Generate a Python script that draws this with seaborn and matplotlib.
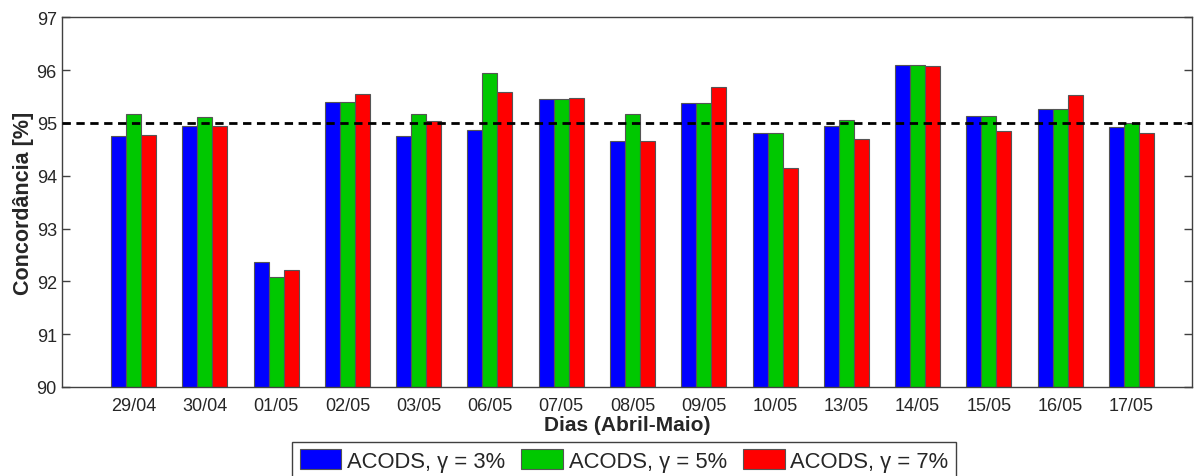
import matplotlib
matplotlib.use("Agg")
import matplotlib.pyplot as plt
import seaborn as sns
import pandas as pd
from matplotlib.patches import Patch

days = ["29/04", "30/04", "01/05", "02/05", "03/05", "06/05", "07/05", "08/05",
        "09/05", "10/05", "13/05", "14/05", "15/05", "16/05", "17/05"]
g3 = [94.75, 94.95, 92.36, 95.39, 94.75, 94.87, 95.46, 94.66, 95.38, 94.81, 94.94, 96.09, 95.14, 95.26, 94.93]
g5 = [95.17, 95.12, 92.08, 95.39, 95.17, 95.95, 95.46, 95.17, 95.38, 94.81, 95.06, 96.09, 95.14, 95.26, 94.99]
g7 = [94.77, 94.95, 92.21, 95.54, 95.04, 95.58, 95.48, 94.66, 95.68, 94.15, 94.70, 96.08, 94.84, 95.53, 94.81]
series = ["ACODS, γ = 3%", "ACODS, γ = 5%", "ACODS, γ = 7%"]
colors = ["#0000FF", "#00C800", "#FF0000"]
yticks = [90, 91, 92, 93, 94, 95, 96, 97]
ref_level = 95

rows = []
for name, vals in zip(series, [g3, g5, g7]):
    for d, v in zip(days, vals):
        rows.append({"Dia": d, "Série": name, "Valor": v})
df = pd.DataFrame(rows)

sns.set_theme(style="white")
plt.rcParams["font.family"] = ["Liberation Sans", "DejaVu Sans"]

fig = plt.figure(figsize=(12.03, 4.77), dpi=100)
ax = fig.add_axes([0.0518, 0.1866, 0.9391, 0.775])

sns.barplot(data=df, x="Dia", y="Valor", hue="Série", order=days, hue_order=series,
            palette=colors, width=0.632, edgecolor="#555555", linewidth=0.8,
            saturation=1, ax=ax, legend=False)

ax.axhline(ref_level, color="black", linestyle=(0, (3, 2)), linewidth=2, zorder=5)

ax.set_ylim(90, 97)
ax.set_xlim(-1, 14.85)
ax.set_yticks(yticks)
ax.set_yticklabels([str(t) for t in yticks], fontsize=13)
ax.tick_params(axis="y", direction="in", length=6, width=1, color="#404040",
               left=True, right=True, pad=4)
ax.tick_params(axis="x", length=0, labelsize=13, pad=7)
for s in ax.spines.values():
    s.set_visible(True)
    s.set_color("#404040")
    s.set_linewidth(1)

ax.set_xlabel("Dias (Abril-Maio)", fontsize=15, fontweight="bold", labelpad=1)
ax.set_ylabel("Concordância [%]", fontsize=15.5, fontweight="bold", labelpad=2)

handles = [Patch(facecolor=c, edgecolor="#555555", linewidth=0.8) for c in colors]
leg = fig.legend(handles, series, loc="lower center", bbox_to_anchor=(0.5187, -0.006),
                 ncol=3, fontsize=15.8, frameon=True, fancybox=False, framealpha=1,
                 edgecolor="#404040", handlelength=1.9, handleheight=1.05,
                 handletextpad=0.25, columnspacing=0.75, borderpad=0.33,
                 borderaxespad=0)
leg.get_frame().set_linewidth(1)

fig.savefig("out.png", dpi=100)
